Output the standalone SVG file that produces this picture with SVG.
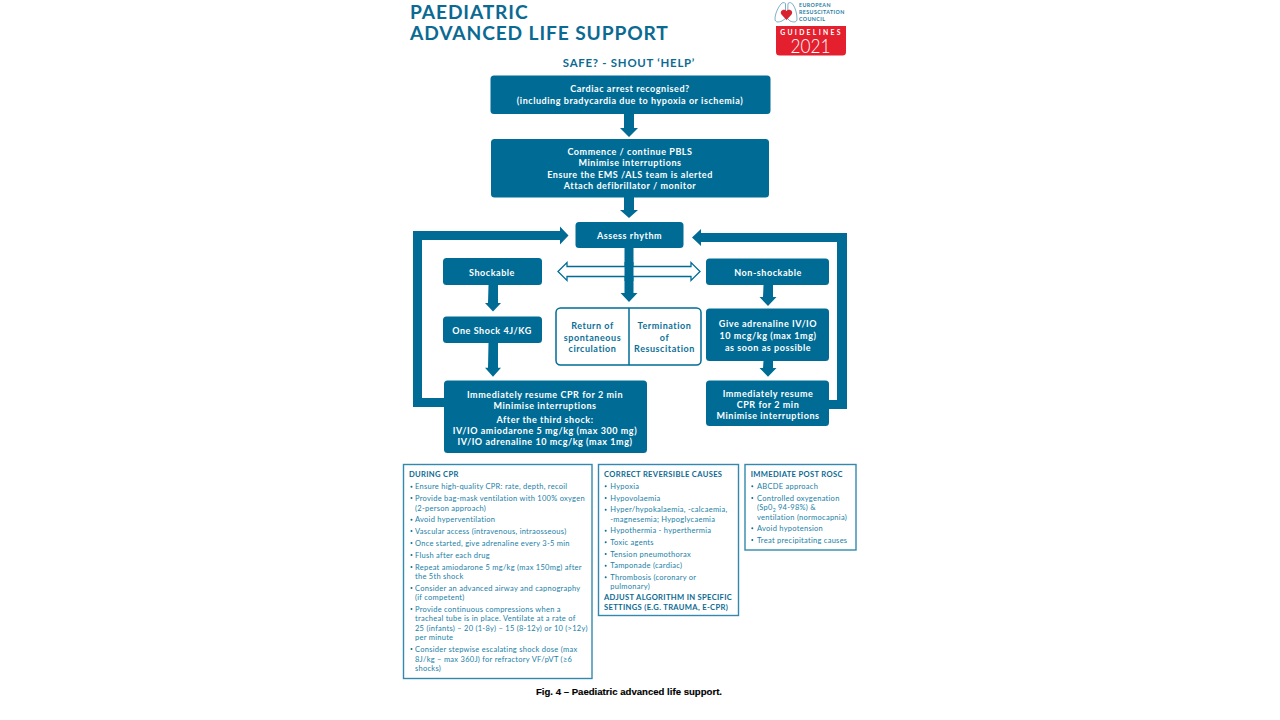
<svg xmlns="http://www.w3.org/2000/svg" width="1280" height="720" viewBox="0 0 1280 720">
<style>
text{font-family:"Lato","Liberation Sans",sans-serif}
.box{fill:#006c96}
.t{fill:#fff;font-weight:700;font-size:9px;text-anchor:middle;letter-spacing:.55px}
.o{fill:#0b6f97;font-weight:700;font-size:9px;text-anchor:middle;letter-spacing:.55px}
.panel{fill:#fff;stroke:#3389ad;stroke-width:1.4}
.h{fill:#0b6a92;font-weight:700;font-size:7.6px;letter-spacing:.33px}
.b{fill:#2180a6;font-size:7.5px;letter-spacing:.27px}
.dot{fill:#0b6f97}
.c{fill:#006c96}
</style>
<rect width="1280" height="720" fill="#fff"/>
<g id="title">
<text x="410" y="18.500" font-size="19.200" font-weight="700" fill="#0b6a92" letter-spacing=".87">PAEDIATRIC</text>
<text x="410" y="39.500" font-size="19.200" font-weight="700" fill="#0b6a92" letter-spacing=".87">ADVANCED LIFE SUPPORT</text>
<text x="629" y="67" font-size="11.400" font-weight="700" fill="#0b6a92" text-anchor="middle" letter-spacing=".75">SAFE? - SHOUT ‘HELP’</text>
</g>
<g id="logo">
<path d="M785.500 3.500c-1.500-1.500-3.500-1-4.500.5-3 3.500-6 10-6 15 0 3.500 3.500 3.500 7 2l3.500-2.500zM788 3.500c1.500-1.500 3.500-1 4.500.5 3 3.500 4.500 10 4.500 15 0 3.500-3.500 3.500-7 2l-2.500-2.500z" fill="none" stroke="#5b9bb9" stroke-width=".8"/>
<path d="M786.500 20l-5-5.500c-2.500-3.500 2.500-6.500 5-3.500 2.500-3 7.500 0 5 3.500z" fill="#d8222d"/>
<text x="799" y="6.500" font-size="5.300" font-weight="700" fill="#1f7da3" letter-spacing=".4">EUROPEAN</text>
<text x="799" y="13.500" font-size="5.300" font-weight="700" fill="#1f7da3" letter-spacing=".4">RESUSCITATION</text>
<text x="799" y="21" font-size="5.300" font-weight="700" fill="#1f7da3" letter-spacing=".4">COUNCIL</text>
<path d="M776 26h70v26a3.500 3.500 0 0 1-3.500 3.500h-63a3.500 3.500 0 0 1-3.500-3.500z" fill="#e5202e"/>
<text x="811.500" y="35" font-size="6.800" font-weight="700" fill="#fff" text-anchor="middle" letter-spacing="2.300">GUIDELINES</text>
<text x="810.500" y="53" font-size="19.500" font-weight="300" fill="#fff" text-anchor="middle" textLength="40" lengthAdjust="spacingAndGlyphs">2021</text>
</g>
<g id="connectors">
<path class="c" d="M624 114h10v14h4l-9 9-9-9h4zM624 197h10v13h4l-9 8-9-8h4z"/>
<path class="c" d="M624.500 248h9v45h4l-8.500 9-8.500-9h4z"/>
<path class="c" d="M488.500 285h9.500v18h3l-8 8.500-8-8.500h3zM488.500 342.700h9.500v25h3l-8 9-8-9h3z"/>
<path class="c" d="M763.500 285h9.500v12h3.500l-8.500 9-8.500-9h3.500zM763.500 360.700h9.500v7.300h3.500l-8.500 8.700-8.500-8.700h3.500z"/>
<path class="c" d="M444 407h-31v-176h147v-4.500l8.500 9-8.500 9v-4.500h-138v158h22z"/>
<path class="c" d="M829 400h8v-158h-136v4l-9-8.500 9-8.500v4h146v176h-18z"/>
<path d="M558 271.500l9-9v4h124v-4l9 9-9 9v-4h-124v4z" fill="#fff" stroke="#006c96" stroke-width="1.300"/>
<path class="c" d="M624.500 262h9v19h-9z"/>
</g>
<g id="cardiac"><rect class="box" x="490.500" y="75.500" width="280" height="38.500" rx="3.500"/><text class="t" x="630" y="92">Cardiac arrest recognised?</text><text class="t" x="630" y="104">(including bradycardia due to hypoxia or ischemia)</text></g>
<g id="pbls"><rect class="box" x="491" y="139" width="278" height="58.500" rx="3.500"/><text class="t" x="630" y="155">Commence / continue PBLS</text><text class="t" x="630" y="166">Minimise interruptions</text><text class="t" x="630" y="177.500">Ensure the EMS /ALS team is alerted</text><text class="t" x="630" y="188.500">Attach defibrillator / monitor</text></g>
<g id="assess"><rect class="box" x="575.500" y="222" width="108" height="26" rx="3.500"/><text class="t" x="629.500" y="239">Assess rhythm</text></g>
<g id="shockable"><rect class="box" x="443" y="258" width="99" height="27" rx="3.500"/><text class="t" x="492" y="276">Shockable</text></g>
<g id="nonshockable"><rect class="box" x="706" y="258.500" width="123" height="26.500" rx="3.500"/><text class="t" x="768" y="276">Non-shockable</text></g>
<g id="oneshock"><rect class="box" x="443" y="316.500" width="99" height="26.500" rx="3.500"/><text class="t" x="492" y="334">One Shock 4J/KG</text></g>
<g id="rosc"><rect x="556" y="308" width="145" height="57" rx="4.500" fill="#fff" stroke="#006c96" stroke-width="1.500"/><path d="M629 308v57" stroke="#006c96" stroke-width="1.500"/>
<text class="o" x="592.500" y="329">Return of</text><text class="o" x="592.500" y="340.500">spontaneous</text><text class="o" x="592.500" y="351.500">circulation</text>
<text class="o" x="664.500" y="329">Termination</text><text class="o" x="664.500" y="340.500">of</text><text class="o" x="664.500" y="351.500">Resuscitation</text></g>
<g id="adrenaline"><rect class="box" x="706" y="308.500" width="123" height="52.500" rx="3.500"/><text class="t" x="768" y="327">Give adrenaline IV/IO</text><text class="t" x="768" y="339">10 mcg/kg (max 1mg)</text><text class="t" x="768" y="351">as soon as possible</text></g>
<g id="resumeleft"><rect class="box" x="444" y="380.500" width="203" height="72.500" rx="3.500"/><text class="t" x="545" y="397.500">Immediately resume CPR for 2 min</text><text class="t" x="545" y="408.500">Minimise interruptions</text><text class="t" x="545" y="422.500">After the third shock:</text><text class="t" x="545" y="434">IV/IO amiodarone 5 mg/kg (max 300 mg)</text><text class="t" x="545" y="445">IV/IO adrenaline 10 mcg/kg (max 1mg)</text></g>
<g id="resumeright"><rect class="box" x="706" y="380.500" width="123" height="45.500" rx="3.500"/><text class="t" x="768" y="396.500">Immediately resume</text><text class="t" x="768" y="407.500">CPR for 2 min</text><text class="t" x="768" y="418.500">Minimise interruptions</text></g>
<g id="during"><rect class="panel" x="403.500" y="464.500" width="188.500" height="214"/>
<text class="h" x="409" y="477">DURING CPR</text>
<g class="dot"><circle cx="411.500" cy="486.700" r="1"/><circle cx="411.500" cy="498" r="1"/><circle cx="411.500" cy="519.700" r="1"/><circle cx="411.500" cy="531" r="1"/><circle cx="411.500" cy="543" r="1"/><circle cx="411.500" cy="555" r="1"/><circle cx="411.500" cy="567" r="1"/><circle cx="411.500" cy="588" r="1"/><circle cx="411.500" cy="609" r="1"/><circle cx="411.500" cy="649" r="1"/></g>
<text class="b" x="415" y="489.200">Ensure high-quality CPR: rate, depth, recoil</text>
<text class="b" x="415" y="500.500">Provide bag-mask ventilation with 100% oxygen</text>
<text class="b" x="415" y="510.500">(2-person approach)</text>
<text class="b" x="415" y="522.200">Avoid hyperventilation</text>
<text class="b" x="415" y="533.500">Vascular access (intravenous, intraosseous)</text>
<text class="b" x="415" y="545.500">Once started, give adrenaline every 3-5 min</text>
<text class="b" x="415" y="557.500">Flush after each drug</text>
<text class="b" x="415" y="569.500">Repeat amiodarone 5 mg/kg (max 150mg) after</text>
<text class="b" x="415" y="578.500">the 5th shock</text>
<text class="b" x="415" y="590.500">Consider an advanced airway and capnography</text>
<text class="b" x="415" y="599.500">(if competent)</text>
<text class="b" x="415" y="611.500">Provide continuous compressions when a</text>
<text class="b" x="415" y="621.200">tracheal tube is in place. Ventilate at a rate of</text>
<text class="b" x="415" y="630.500">25 (infants) – 20 (1-8y) – 15 (8-12y) or 10 (&gt;12y)</text>
<text class="b" x="415" y="640.200">per minute</text>
<text class="b" x="415" y="651.500">Consider stepwise escalating shock dose (max</text>
<text class="b" x="415" y="661.500">8J/kg – max 360J) for refractory VF/pVT (≥6</text>
<text class="b" x="415" y="670.500">shocks)</text>
</g>
<g id="causes"><rect class="panel" x="598.500" y="464.500" width="140" height="151"/>
<text class="h" x="604" y="477">CORRECT REVERSIBLE CAUSES</text>
<g class="dot"><circle cx="605.700" cy="486.300" r="1"/><circle cx="605.700" cy="498" r="1"/><circle cx="605.700" cy="509.700" r="1"/><circle cx="605.700" cy="530.700" r="1"/><circle cx="605.700" cy="542.300" r="1"/><circle cx="605.700" cy="554" r="1"/><circle cx="605.700" cy="565.700" r="1"/><circle cx="605.700" cy="577.300" r="1"/></g>
<text class="b" x="610.300" y="488.800">Hypoxia</text>
<text class="b" x="610.300" y="500.500">Hypovolaemia</text>
<text class="b" x="610.300" y="512.200">Hyper/hypokalaemia, -calcaemia,</text>
<text class="b" x="610.300" y="521.500">-magnesemia; Hypoglycaemia</text>
<text class="b" x="610.300" y="533.200">Hypothermia - hyperthermia</text>
<text class="b" x="610.300" y="544.800">Toxic agents</text>
<text class="b" x="610.300" y="556.500">Tension pneumothorax</text>
<text class="b" x="610.300" y="568.200">Tamponade (cardiac)</text>
<text class="b" x="610.300" y="579.800">Thrombosis (coronary or</text>
<text class="b" x="610.300" y="589.200">pulmonary)</text>
<text class="h" x="604" y="600.300">ADJUST ALGORITHM IN SPECIFIC</text>
<text class="h" x="604" y="609.800">SETTINGS (E.G. TRAUMA, E-CPR)</text>
</g>
<g id="postrosc"><rect class="panel" x="745" y="464.500" width="111" height="85.500"/>
<text class="h" x="750.700" y="477">IMMEDIATE POST ROSC</text>
<g class="dot"><circle cx="752.300" cy="486.300" r="1"/><circle cx="752.300" cy="498" r="1"/><circle cx="752.300" cy="528.300" r="1"/><circle cx="752.300" cy="540" r="1"/></g>
<text class="b" x="757" y="488.800">ABCDE approach</text>
<text class="b" x="757" y="500.500">Controlled oxygenation</text>
<text class="b" x="757" y="509.800">(Sp0<tspan font-size="5" dy="2">2</tspan><tspan dy="-2"> 94-98%) &amp;</tspan></text>
<text class="b" x="757" y="519.500">ventilation (normocapnia)</text>
<text class="b" x="757" y="530.800">Avoid hypotension</text>
<text class="b" x="757" y="542.500">Treat precipitating causes</text>
</g>
<text id="caption" x="629" y="694.500" font-size="9.600" font-weight="700" fill="#000" stroke="#000" stroke-width=".15" text-anchor="middle" style="font-family:'Liberation Sans',Arial,sans-serif">Fig. 4 – Paediatric advanced life support.</text>
</svg>
